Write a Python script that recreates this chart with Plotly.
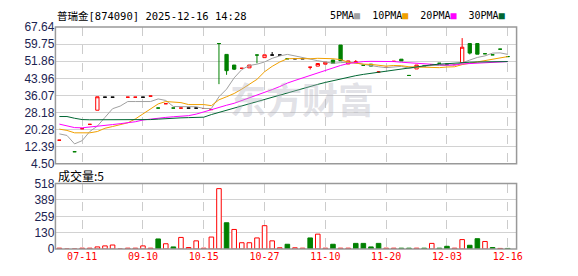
import plotly.graph_objects as go

# ---------------- data ----------------
tick_labels = ["07-11", "09-10", "10-15", "10-27", "11-10", "11-20", "12-03", "12-16"]
price_ticks = [4.50, 12.39, 20.28, 28.18, 36.07, 43.96, 51.86, 59.75, 67.64]
vol_ticks = [0, 130, 259, 389, 518]

open_ = [15.5, None, 10.2, 20.8, 22.8, 29.3, 35.3, 35.3, None, 35.3,
         35.3, 35.3, 35.8, 30.3, 32.3, 30.3, 30.3, 30.3, 30.3, 30.1,
         29.6, 60.0, 55.0, 50.1, 48.6, 48.8, 54.7, 53.5, 54.7, 54.7,
         53.0, 53.0, 53.0, 49.1, 49.6, 50.5, 52.4, 59.3, 50.6, 51.2,
         50.0, 50.5, 46.9, 49.0, 51.8, 52.8, 45.3, 48.3, 49.6, 50.1,
         50.9, 50.5, 50.3, 51.2, 60.0, 60.0, 55.3, 54.8, 57.4, 54.0]
high = [15.5, None, 10.2, 20.8, 22.8, 35.5, 35.3, 35.3, None, 35.3,
        35.3, 35.3, 35.8, 30.3, 32.3, 30.3, 30.3, 30.3, 30.3, 30.1,
        29.6, 60.0, 55.0, 50.1, 48.6, 50.1, 54.7, 54.8, 56.1, 54.7,
        53.0, 53.0, 53.0, 49.1, 50.8, 51.4, 52.4, 59.3, 52.0, 52.4,
        50.0, 50.5, 47.3, 49.0, 51.8, 52.8, 45.3, 50.1, 49.6, 50.1,
        50.9, 50.5, 50.3, 62.5, 60.0, 60.0, 55.3, 54.8, 57.4, 54.0]
low = [15.5, None, 10.2, 20.8, 22.8, 29.3, 35.3, 35.3, None, 35.3,
       35.3, 35.3, 35.8, 30.3, 32.3, 30.3, 30.3, 30.3, 30.3, 30.1,
       29.6, 41.3, 45.6, 47.8, 48.6, 48.8, 50.9, 53.5, 54.7, 54.7,
       53.0, 53.0, 53.0, 48.05, 49.6, 50.5, 50.9, 52.1, 50.6, 51.0,
       50.0, 49.6, 46.5, 49.0, 51.8, 52.0, 45.3, 48.3, 49.6, 50.1,
       50.9, 50.5, 50.3, 51.2, 55.0, 55.1, 55.3, 54.8, 57.4, 54.0]
close = [15.5, None, 10.2, 20.8, 22.8, 35.5, 35.3, 35.3, None, 35.3,
         35.3, 35.3, 35.8, 30.3, 32.3, 30.3, 30.3, 30.3, 30.3, 30.1,
         29.6, 60.0, 47.5, 48.2, 48.6, 50.1, 54.7, 54.8, 54.7, 54.7,
         53.0, 53.0, 53.0, 49.1, 50.8, 51.4, 50.9, 52.1, 52.0, 51.6,
         50.0, 49.6, 46.9, 49.0, 51.8, 52.0, 45.3, 50.1, 49.6, 50.1,
         50.9, 50.5, 50.3, 58.3, 55.6, 55.1, 55.3, 54.8, 57.4, 54.0]
candle_dir = ["r", "k", "g", "r", "r", "r", "k", "k", "k", "r",
              "r", "k", "r", "g", "r", "g", "r", "k", "k", "r",
              "r", "g", "g", "g", "r", "r", "g", "r", "k", "k",
              "g", "k", "k", "r", "r", "r", "g", "g", "r", "r",
              "g", "g", "r", "r", "r", "g", "g", "r", "g", "r",
              "g", "g", "r", "r", "g", "g", "g", "g", "g", "g"]

volume = [7, 0, 0, 7, 7, 17, 25, 32, 0, 7,
          7, 25, 7, 80, 42, 17, 92, 12, 65, 7,
          95, 478, 208, 155, 50, 50, 88, 185, 65, 10,
          38, 10, 7, 88, 118, 7, 38, 7, 7, 45,
          45, 17, 45, 7, 7, 7, 7, 7, 7, 45,
          7, 22, 7, 75, 30, 82, 60, 12, 5, 5]
vol_dir = ["r", "r", "r", "r", "r", "r", "r", "r", "r", "r",
           "r", "r", "r", "g", "r", "g", "r", "r", "r", "r",
           "r", "r", "g", "r", "r", "r", "r", "r", "r", "r",
           "g", "r", "r", "g", "r", "r", "g", "r", "r", "g",
           "g", "g", "g", "r", "r", "g", "g", "r", "g", "r",
           "g", "g", "r", "r", "g", "g", "r", "g", "r", "g"]

ma5 = [18.4, 17.7, 13.8, 15.3, 19.5, 22.0, 26.0, 30.0, 31.2, 33.3,
       33.3, 33.3, 33.3, 34.5, 33.8, 31.0, 30.9, 30.9, 30.9, 30.1,
       30.1, 35.5, 39.0, 44.2, 48.0, 49.9, 50.5, 51.5, 53.2, 54.3,
       55.0, 54.3, 53.5, 52.8, 52.1, 51.5, 50.9, 51.2, 51.4, 51.0,
       50.4, 49.6, 49.3, 48.9, 49.3, 49.5, 48.6, 49.0, 49.6, 49.9,
       49.9, 49.9, 50.3, 51.1, 52.4, 53.6, 54.3, 55.6, 55.7, 55.0]
ma10 = [20.6, 20.0, 18.9, 18.9, 18.9, 19.5, 21.0, 21.8, 22.8, 23.5,
        25.3, 27.5, 30.0, 32.2, 33.3, 33.0, 32.8, 31.9, 31.9, 31.9,
        31.4, 34.1, 35.5, 37.0, 39.0, 41.2, 43.5, 47.0, 49.5, 51.5,
        53.0, 53.1, 52.9, 53.0, 53.2, 53.2, 53.0, 52.6, 51.4, 51.0,
        50.5, 50.4, 50.0, 49.6, 49.9, 49.8, 49.3, 49.2, 49.2, 49.0,
        48.9, 49.2, 49.3, 50.3, 50.9, 51.6, 52.2, 52.8, 53.4, 54.0]
ma20 = [22.9, 22.2, 21.3, 21.2, 21.5, 22.0, 22.4, 22.7, 23.1, 23.5,
        24.0, 24.8, 25.3, 25.6, 26.0, 26.3, 26.6, 26.8, 27.5, 28.6,
        29.7, 30.7, 31.6, 32.5, 33.7, 34.9, 36.2, 37.5, 38.8, 40.2,
        41.8, 43.0, 44.2, 45.4, 46.6, 47.6, 48.8, 49.9, 50.8, 51.4,
        51.7, 51.8, 51.8, 51.8, 51.7, 51.4, 51.1, 50.9, 50.6, 50.4,
        50.2, 50.1, 50.1, 50.6, 50.8, 50.9, 51.1, 51.2, 51.5, 51.7]
ma30 = [26.4, 26.4, 25.6, 25.0, 24.9, 24.9, 24.9, 24.9, 24.9, 24.9,
        24.8, 24.8, 25.0, 25.2, 25.5, 25.7, 25.8, 25.9, 26.0, 26.1,
        27.3, 28.3, 29.2, 30.2, 31.2, 32.2, 33.2, 34.2, 35.3, 36.5,
        37.4, 38.4, 39.4, 40.3, 41.2, 42.1, 42.9, 43.7, 44.6, 45.2,
        45.8, 46.3, 46.9, 47.4, 47.8, 48.1, 48.8, 49.4, 49.8, 50.2,
        50.5, 50.8, 51.1, 51.3, 51.4, 51.5, 51.6, 51.6, 51.7, 51.7]

# ---------------- layout geometry ----------------
W, H = 578, 276
PX0, PX1 = 56, 522
P_TOP, P_BOT = 21, 165.5
V_TOP, V_BOT = 186, 255


def fx(px):
    return px / W


def fy(py):
    return 1 - py / H


n = len(close)
idx = list(range(n))
label_pos = [3 + 8 * k for k in range(len(tick_labels))]

RED = "#ff0000"
GREEN = "#008000"
BLACK = "#000000"

fig = go.Figure()

ma_styles = [("5PMA", ma5, "#a0a0a0"), ("10PMA", ma10, "#f0a000"),
             ("20PMA", ma20, "#ff00ff"), ("30PMA", ma30, "#006633")]

# candles by colour group
groups = {"r": (RED, "#ffffff"), "g": (GREEN, GREEN), "k": (BLACK, BLACK)}
for key, (lc, fc) in groups.items():
    sel = [candle_dir[i] == key for i in idx]
    fig.add_trace(go.Candlestick(
        x=idx,
        open=[open_[i] if sel[i] else None for i in idx],
        high=[high[i] if sel[i] else None for i in idx],
        low=[low[i] if sel[i] else None for i in idx],
        close=[close[i] if sel[i] else None for i in idx],
        increasing=dict(line=dict(color=lc, width=1), fillcolor=fc),
        decreasing=dict(line=dict(color=lc, width=1), fillcolor=fc),
        whiskerwidth=0, showlegend=False, hoverinfo="skip",
        xaxis="x", yaxis="y"))

for name, vals, col in ma_styles:
    fig.add_trace(go.Scatter(x=idx, y=vals, mode="lines", name=name,
                             line=dict(color=col, width=1), showlegend=False,
                             hoverinfo="skip", xaxis="x", yaxis="y"))

# volume bars
for key, (lc, fc) in [("r", (RED, "#ffffff")), ("g", (GREEN, GREEN))]:
    xs = [i for i in idx if vol_dir[i] == key]
    ys = [volume[i] for i in xs]
    fig.add_trace(go.Bar(x=xs, y=ys, width=0.6,
                         marker=dict(color=fc, line=dict(color=lc, width=1)),
                         showlegend=False, hoverinfo="skip",
                         xaxis="x2", yaxis="y2"))

xr = [-0.52, 60.16]
grid_c = "#d2d2d2"
fig.update_layout(
    width=W, height=H, margin=dict(l=0, r=0, t=0, b=0),
    paper_bgcolor="#ffffff", plot_bgcolor="#ffffff",
    boxgap=0.38,
    bargap=0.4,
    xaxis=dict(domain=[fx(PX0), fx(PX1)], range=xr, anchor="y",
               tickvals=label_pos, showticklabels=False, ticks="",
               showgrid=True, gridcolor="#cccccc", griddash="dash", gridwidth=1,
               zeroline=False, showline=False, rangeslider=dict(visible=False)),
    yaxis=dict(domain=[fy(P_BOT), fy(P_TOP)], range=[price_ticks[0], price_ticks[-1]],
               tickvals=price_ticks, ticktext=[f"{v:.2f}" for v in price_ticks],
               ticks="", showgrid=True, gridcolor=grid_c, gridwidth=1,
               zeroline=False, showline=False,
               tickfont=dict(family="Liberation Sans, Arial", size=12, color="#1c2452")),
    xaxis2=dict(domain=[fx(PX0), fx(PX1)], range=xr, anchor="y2",
                tickvals=label_pos, ticktext=tick_labels, ticks="",
                showgrid=True, gridcolor="#cccccc", griddash="dash", gridwidth=1,
                zeroline=False, showline=False,
                tickfont=dict(family="DejaVu Sans Mono", size=10, color=RED)),
    yaxis2=dict(domain=[fy(V_BOT), fy(V_TOP)], range=[vol_ticks[0], vol_ticks[-1]],
                tickvals=vol_ticks, ticktext=[str(v) for v in vol_ticks],
                ticks="", showgrid=True, gridcolor=grid_c, gridwidth=1,
                zeroline=False, showline=False,
                tickfont=dict(family="Liberation Sans, Arial", size=12, color="#1c2452")),
)

border = "#999999"
shapes = []
for top, bot in [(P_TOP, 165), (V_TOP, V_BOT)]:
    shapes.append(dict(type="rect", xref="paper", yref="paper",
                       x0=fx(PX0), x1=fx(PX1), y0=fy(bot), y1=fy(top),
                       line=dict(color=border, width=1.5), layer="above"))
fig.update_layout(shapes=shapes)

mono = "DejaVu Sans Mono, Noto Sans CJK SC"
ann = []
ann.append(dict(xref="paper", yref="paper", x=fx(56), y=fy(9), xanchor="left", yanchor="middle",
                text="普瑞金[874090] 2025-12-16 14:28", showarrow=False,
                font=dict(family=mono, size=10.5, color="#000000")))
leg = "  ".join(f"{nm}<span style='color:{c}'>■</span>" for nm, _, c in ma_styles)
ann.append(dict(xref="paper", yref="paper", x=fx(512), y=fy(9), xanchor="right", yanchor="middle",
                text=leg, showarrow=False,
                font=dict(family=mono, size=10, color="#000000")))
ann.append(dict(xref="paper", yref="paper", x=fx(57), y=fy(177.5), xanchor="left", yanchor="middle",
                text=f"成交量:{volume[-1]}", showarrow=False,
                font=dict(family="Noto Sans CJK SC", size=12, color="#000000")))
ann.append(dict(xref="paper", yref="paper", x=fx(305), y=fy(96), xanchor="center", yanchor="middle",
                text="<b>东方财富</b>", showarrow=False,
                font=dict(family="Noto Sans CJK SC", size=36, color="rgba(180,180,192,0.4)")))
fig.update_layout(annotations=ann)

fig.write_html("out.html")
